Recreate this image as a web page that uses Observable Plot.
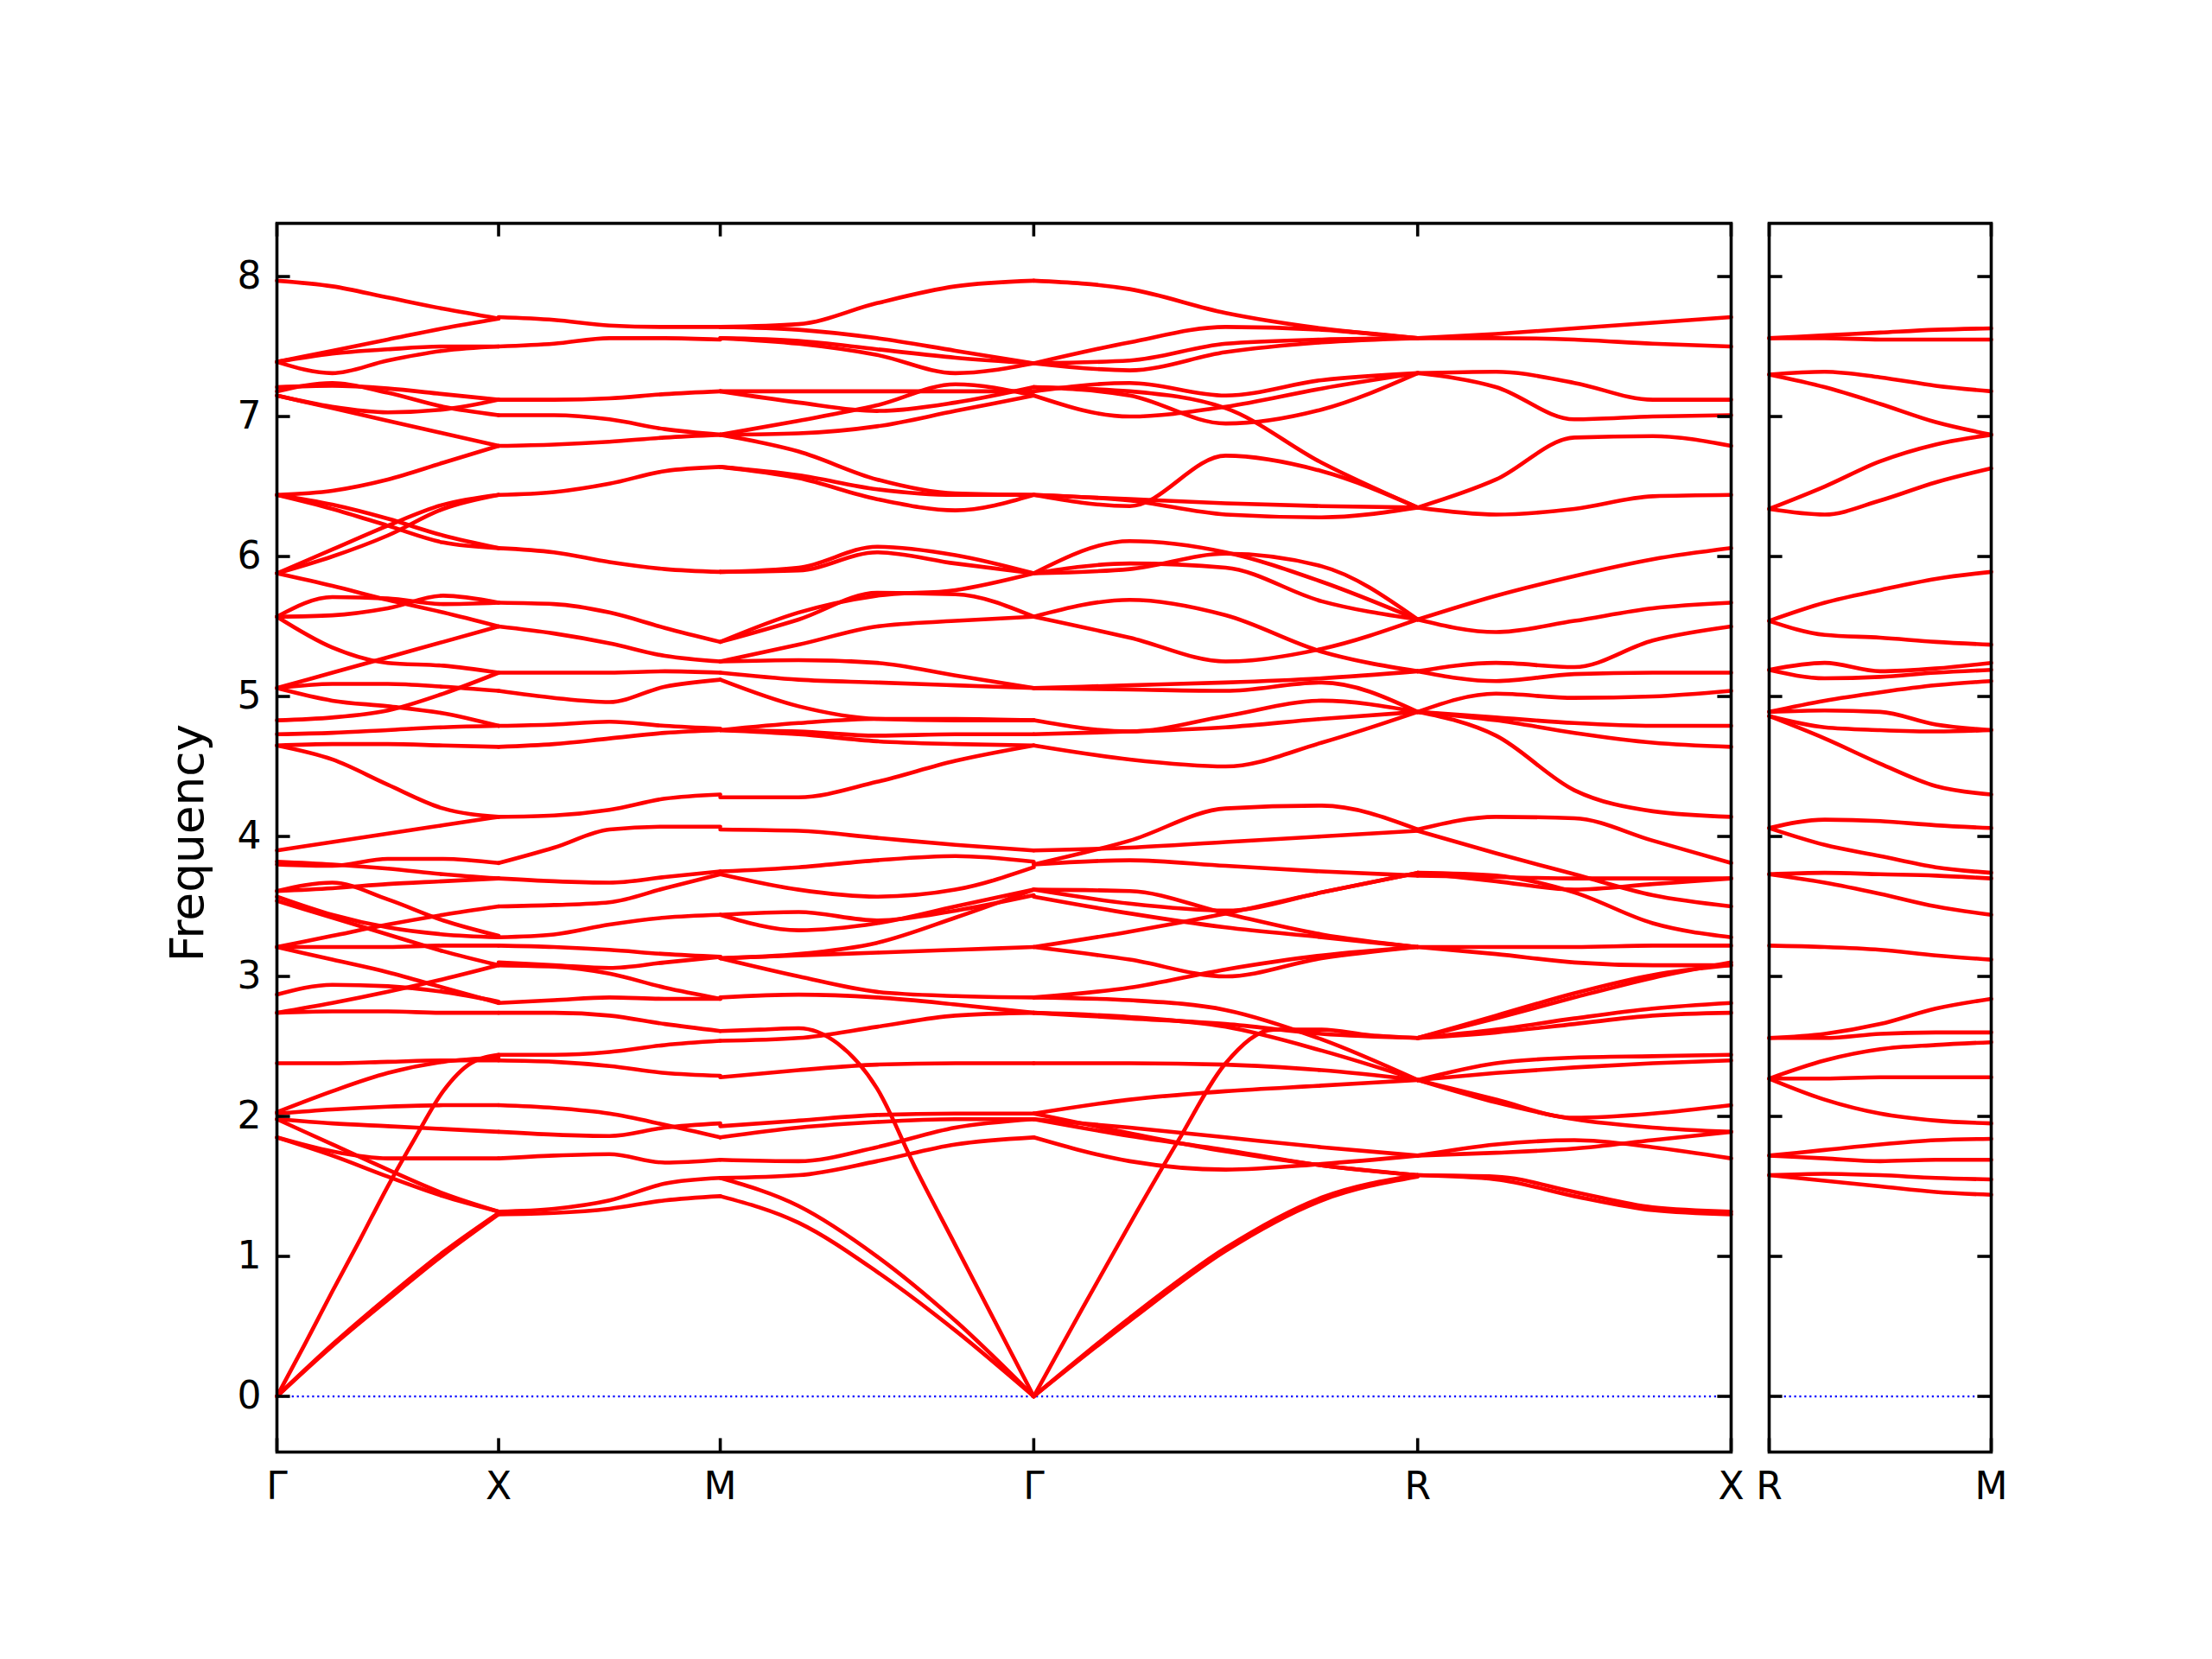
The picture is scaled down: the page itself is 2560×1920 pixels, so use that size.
<!DOCTYPE html>
<html><head><meta charset="utf-8">
<script src="https://cdn.jsdelivr.net/npm/d3@7"></script>
<script src="https://cdn.jsdelivr.net/npm/@observablehq/plot@0.6"></script>
<style>
html,body{margin:0;padding:0;background:#fff;}
#fig{position:relative;width:2560px;height:1920px;background:#fff;overflow:hidden;}
#fig > svg{position:absolute;top:0;}
</style></head><body><div id="fig"></div>
<script>
// high-symmetry points (path length) and labels
const symLeftX = [0, 0.5, 1.0, 1.7071, 2.5731, 3.2802];
const symLeftLabels = ["Γ","X","M","Γ","R","X"];
const symRightX = [0, 0.5];
const symRightLabels = ["R","M"];
const yTicks = [0,1,2,3,4,5,6,7,8];
const yDomain = [-0.398, 8.38];
const yLabel = "Frequency";

// band values read along each segment (evenly spaced samples)
const bandsGX = [
[7.97,7.93,7.85,7.77,7.70],[7.39,7.47,7.55,7.63,7.70],[7.39,7.45,7.48,7.50,7.50],[7.39,7.31,7.40,7.47,7.50],
[7.21,7.22,7.20,7.16,7.12],[7.18,7.24,7.17,7.07,7.01],[7.15,7.07,7.03,7.05,7.12],[7.15,7.06,6.97,6.88,6.79],
[6.44,6.47,6.55,6.67,6.79],[6.44,6.37,6.27,6.15,6.06],[6.44,6.34,6.22,6.10,6.06],[5.88,6.05,6.22,6.37,6.44],
[5.88,6.00,6.15,6.34,6.44],[5.88,5.79,5.69,5.60,5.50],[5.57,5.71,5.70,5.66,5.67],[5.57,5.58,5.63,5.72,5.67],
[5.57,5.35,5.24,5.22,5.17],[5.06,5.17,5.28,5.39,5.50],[5.06,5.09,5.09,5.07,5.04],[5.06,4.97,4.93,4.88,4.79],
[4.83,4.85,4.90,5.02,5.17],[4.73,4.74,4.76,4.78,4.79],[4.65,4.66,4.66,4.65,4.64],[4.65,4.55,4.37,4.20,4.14],
[3.90,3.96,4.02,4.08,4.14],[3.80,3.79,3.84,3.84,3.81],[3.82,3.80,3.77,3.73,3.70],[3.61,3.63,3.66,3.68,3.70],
[3.61,3.67,3.55,3.40,3.29],[3.57,3.44,3.35,3.30,3.28],[3.54,3.42,3.30,3.18,3.08],[3.21,3.29,3.37,3.44,3.50],
[3.21,3.21,3.21,3.22,3.22],[3.21,3.12,3.03,2.92,2.81],[2.74,2.81,2.89,2.98,3.08],[2.87,2.94,2.93,2.89,2.82],
[2.74,2.75,2.75,2.74,2.74],[2.38,2.38,2.39,2.40,2.40],[2.03,2.18,2.31,2.39,2.42],[2.02,2.05,2.07,2.08,2.08],
[1.98,1.95,1.93,1.91,1.89],[1.85,1.75,1.70,1.70,1.70],[1.85,1.72,1.57,1.43,1.32],[1.98,1.80,1.62,1.45,1.32],
[0,0.37,0.75,1.12,1.50,1.85,2.18,2.38,2.44],[0,0.37,0.71,1.03,1.31],[0,0.36,0.69,1.01,1.30]
];
const bandsXM = [
[7.71,7.69,7.65,7.64,7.64],[7.50,7.52,7.56,7.56,7.55],[7.12,7.12,7.13,7.16,7.18],[7.01,7.01,6.98,6.91,6.87],
[6.79,6.80,6.82,6.85,6.87],[6.44,6.46,6.52,6.61,6.64],[6.06,6.03,5.96,5.91,5.89],[5.67,5.66,5.60,5.49,5.39],
[5.50,5.45,5.38,5.29,5.25],[5.17,5.17,5.17,5.18,5.17],[5.04,4.99,4.96,5.07,5.12],[4.79,4.80,4.82,4.79,4.77],
[4.64,4.66,4.70,4.74,4.76],[4.14,4.15,4.19,4.27,4.30],[3.81,3.92,4.05,4.07,4.07],[3.70,3.68,3.67,3.71,3.75],
[3.50,3.51,3.53,3.63,3.73],[3.28,3.30,3.37,3.42,3.44],[3.22,3.21,3.19,3.16,3.14],[3.08,3.07,3.02,2.92,2.84],
[3.10,3.08,3.06,3.10,3.14],[2.81,2.83,2.85,2.84,2.84],[2.74,2.74,2.72,2.66,2.61],[2.44,2.44,2.46,2.51,2.54],
[2.40,2.39,2.36,2.31,2.29],[2.08,2.06,2.02,1.94,1.85],[1.89,1.87,1.86,1.92,1.95],[1.70,1.72,1.73,1.67,1.69],
[1.32,1.34,1.40,1.52,1.56],[1.30,1.31,1.34,1.40,1.43]
];
const bandsMG = [
[7.64,7.66,7.81,7.93,7.97],[7.64,7.62,7.56,7.47,7.38],[7.56,7.52,7.44,7.31,7.38],[7.56,7.54,7.48,7.42,7.38],
[7.18,7.18,7.18,7.18,7.18],[7.18,7.10,7.04,7.10,7.21],[6.87,6.97,7.08,7.23,7.15],[6.87,6.88,6.93,7.04,7.15],
[6.87,6.75,6.55,6.45,6.44],[6.64,6.56,6.41,6.33,6.44],[6.64,6.58,6.48,6.44,6.44],[5.89,5.92,6.07,6.01,5.88],
[5.89,5.90,6.03,5.95,5.88],[5.39,5.60,5.72,5.76,5.88],[5.39,5.55,5.74,5.73,5.57],[5.25,5.37,5.50,5.54,5.57],
[5.25,5.26,5.24,5.15,5.06],[5.17,5.12,5.10,5.08,5.06],[5.12,4.93,4.84,4.83,4.83],[4.76,4.81,4.84,4.84,4.83],
[4.76,4.75,4.72,4.73,4.73],[4.76,4.73,4.68,4.66,4.65],[4.28,4.28,4.39,4.54,4.65],[4.05,4.04,3.99,3.94,3.90],
[3.75,3.78,3.83,3.86,3.82],[3.73,3.62,3.57,3.62,3.78],[3.44,3.46,3.40,3.47,3.58],[3.44,3.33,3.38,3.50,3.62],
[3.13,3.16,3.24,3.42,3.62],[3.13,3.15,3.17,3.19,3.21],[3.13,3.00,2.89,2.86,2.85],[2.85,2.87,2.85,2.80,2.74],
[2.54,2.56,2.64,2.72,2.74],[2.28,2.33,2.37,2.38,2.38],[1.93,1.97,2.01,2.02,2.02],[1.85,1.92,1.96,1.98,1.98],
[1.69,1.68,1.78,1.92,1.98],[1.56,1.58,1.68,1.80,1.85],
[2.61,2.62,2.63,2.52,2.20,1.62,1.08,0.54,0],[1.56,1.36,1.00,0.54,0],[1.43,1.24,0.89,0.47,0]
];
const bandsGR = [
[7.97,7.91,7.74,7.63,7.56],[7.38,7.53,7.64,7.62,7.56],[7.38,7.40,7.52,7.55,7.56],[7.38,7.33,7.46,7.53,7.56],
[7.18,7.24,7.15,7.26,7.31],[7.15,7.00,7.07,7.20,7.31],[7.21,7.15,6.95,7.05,7.31],[7.21,7.18,7.06,6.67,6.35],
[6.44,6.36,6.72,6.61,6.35],[6.44,6.41,6.38,6.36,6.35],[6.44,6.40,6.30,6.28,6.35],[5.88,6.11,6.03,5.82,5.55],
[5.88,5.91,6.02,5.93,5.55],[5.88,5.95,5.92,5.68,5.55],[5.57,5.69,5.58,5.32,5.18],[5.57,5.42,5.25,5.34,5.55],
[5.06,5.08,5.10,5.13,5.18],[5.06,5.05,5.04,5.10,4.89],[4.83,4.75,4.86,4.97,4.89],[4.73,4.75,4.78,4.84,4.89],
[4.65,4.55,4.50,4.67,4.89],[3.80,3.97,4.20,4.22,4.05],[3.90,3.92,3.96,4.00,4.04],[3.80,3.83,3.79,3.75,3.72],
[3.62,3.52,3.47,3.60,3.74],[3.62,3.61,3.45,3.30,3.21],[3.57,3.45,3.35,3.28,3.21],[3.21,3.12,3.00,3.13,3.21],
[3.21,3.32,3.45,3.60,3.74],[2.85,2.92,3.05,3.15,3.21],[2.85,2.83,2.76,2.55,2.26],[2.74,2.71,2.64,2.47,2.26],
[2.74,2.70,2.66,2.59,2.56],[2.38,2.38,2.37,2.33,2.26],[2.02,2.12,2.18,2.22,2.26],[1.98,1.92,1.85,1.78,1.72],
[1.85,1.68,1.62,1.66,1.72],[2.02,1.88,1.75,1.65,1.58],[1.98,1.86,1.76,1.65,1.58],
[0,0.62,1.23,1.82,2.38,2.62,2.62,2.58,2.56],[0,0.56,1.06,1.42,1.58],[0,0.54,1.04,1.40,1.57]
];
const bandsRX = [
[7.56,7.59,7.63,7.67,7.71],[7.56,7.56,7.55,7.52,7.50],[7.31,7.32,7.24,7.12,7.12],[7.31,7.21,6.98,7.00,7.01],
[6.35,6.55,6.85,6.86,6.79],[6.35,6.30,6.34,6.43,6.44],[5.55,5.72,5.86,5.98,6.06],[5.55,5.46,5.54,5.63,5.67],
[5.18,5.24,5.21,5.40,5.50],[5.18,5.11,5.16,5.17,5.17],[4.89,5.02,4.99,5.00,5.04],[4.89,4.85,4.81,4.79,4.79],
[4.89,4.83,4.74,4.67,4.64],[4.89,4.72,4.33,4.18,4.14],[4.05,4.14,4.13,3.97,3.81],[4.04,3.88,3.73,3.58,3.50],
[3.74,3.72,3.60,3.38,3.28],[3.74,3.68,3.62,3.66,3.70],[3.72,3.71,3.70,3.70,3.70],[3.21,3.21,3.21,3.22,3.22],
[3.21,3.16,3.10,3.08,3.08],[2.56,2.72,2.88,3.01,3.08],[2.56,2.70,2.85,2.99,3.10],[2.56,2.60,2.66,2.72,2.74],
[2.56,2.62,2.70,2.77,2.81],[2.26,2.38,2.42,2.43,2.44],[2.26,2.31,2.35,2.38,2.40],[2.26,2.12,1.99,2.02,2.08],
[2.26,2.10,1.98,1.92,1.89],[1.72,1.80,1.83,1.78,1.70],[1.72,1.74,1.77,1.83,1.89],[1.58,1.57,1.46,1.35,1.32],
[1.58,1.55,1.43,1.33,1.30]
];
const bandsRM = [
[7.56,7.58,7.60,7.62,7.63],[7.56,7.56,7.55,7.55,7.55],[7.30,7.32,7.28,7.22,7.18],[7.30,7.21,7.09,6.96,6.87],
[6.34,6.50,6.68,6.80,6.87],[6.34,6.30,6.40,6.53,6.63],[5.54,5.67,5.76,5.84,5.89],[5.54,5.44,5.42,5.39,5.37],
[5.19,5.24,5.18,5.20,5.24],[5.19,5.13,5.14,5.17,5.19],[4.89,4.97,5.03,5.08,5.11],[4.89,4.90,4.89,4.80,4.76],
[4.86,4.78,4.76,4.75,4.76],[4.86,4.70,4.52,4.36,4.30],[4.06,4.12,4.11,4.08,4.06],[4.06,3.94,3.86,3.78,3.74],
[3.73,3.74,3.73,3.72,3.70],[3.73,3.67,3.59,3.50,3.44],[3.22,3.21,3.19,3.15,3.12],[2.56,2.59,2.66,2.77,2.84],
[2.56,2.56,2.59,2.60,2.60],[2.27,2.40,2.48,2.51,2.53],[2.27,2.27,2.28,2.28,2.28],[2.27,2.12,2.02,1.97,1.95],
[1.72,1.76,1.80,1.83,1.84],[1.72,1.70,1.68,1.69,1.69],[1.58,1.59,1.58,1.56,1.55],[1.58,1.54,1.50,1.46,1.44]
];

const leftSegments = [
  {from: 0, to: 1, bands: bandsGX},
  {from: 1, to: 2, bands: bandsXM},
  {from: 2, to: 3, bands: bandsMG},
  {from: 3, to: 4, bands: bandsGR},
  {from: 4, to: 5, bands: bandsRX}
];
const rightSegments = [{from: 0, to: 1, bands: bandsRM}];

function buildRows(segs, sym) {
  const rows = [];
  segs.forEach((s, si) => {
    const x0 = sym[s.from], x1 = sym[s.to];
    s.bands.forEach((vals, bi) => {
      const n = vals.length;
      vals.forEach((v, i) => rows.push({id: si + "-" + bi, x: x0 + (x1 - x0) * i / (n - 1), y: v}));
    });
  });
  return rows;
}

const FONT = "'DejaVu Sans', 'Liberation Sans', sans-serif";
const TICK = 15.6, SPINE = 3.6, LW = 4.6;
const TOP = 258, BOTTOM = 1680;
const FRAME_H = BOTTOM - TOP;
const style = {background: "transparent", fontFamily: FONT, fontSize: "44px", color: "black", overflow: "visible"};

function panel({sym, labels, segs, width, left, right, showY}) {
  const frameW = width - left - right;
  const rows = buildRows(segs, sym);
  const marks = [
    Plot.ruleY([0], {stroke: "blue", strokeWidth: 2.2, strokeDasharray: "2.2,3.7"}),
    Plot.line(rows, {x: "x", y: "y", z: "id", stroke: "red", strokeWidth: LW, curve: "monotone-x", strokeLinejoin: "round"}),
    Plot.ruleY(yTicks, {y: d => d, stroke: "black", strokeWidth: SPINE, insetRight: frameW - TICK}),
    Plot.ruleY(yTicks, {y: d => d, stroke: "black", strokeWidth: SPINE, insetLeft: frameW - TICK}),
    Plot.ruleX(sym, {x: d => d, stroke: "black", strokeWidth: SPINE, insetBottom: FRAME_H - TICK}),
    Plot.ruleX(sym, {x: d => d, stroke: "black", strokeWidth: SPINE, insetTop: FRAME_H - TICK}),
    Plot.frame({stroke: "black", strokeWidth: SPINE}),
    Plot.axisX({ticks: sym, tickSize: 0, tickPadding: 23, label: null, fontSize: 44, fontFamily: FONT,
      tickFormat: d => labels[sym.indexOf(d)]})
  ];
  if (showY) {
    marks.push(Plot.axisY({ticks: yTicks, tickSize: 0, tickPadding: 18, label: null, fontSize: 44, fontFamily: FONT}));
    marks.push(Plot.text([yLabel], {text: d => d, frameAnchor: "left", textAnchor: "middle", lineAnchor: "middle",
      dx: -103, dy: 6, rotate: -90, fontSize: 53.3, fontFamily: FONT, fill: "black"}));
  }
  return Plot.plot({
    width, height: 1920,
    marginLeft: left, marginRight: right, marginTop: TOP, marginBottom: 1920 - BOTTOM,
    style,
    x: {domain: [sym[0], sym[sym.length - 1]], axis: null},
    y: {domain: yDomain, axis: showY ? undefined : null},
    marks
  });
}

const fig = document.getElementById("fig");
const leftSvg = panel({sym: symLeftX, labels: symLeftLabels, segs: leftSegments, width: 2030, left: 320, right: 27, showY: true});
leftSvg.style.left = "0px";
fig.appendChild(leftSvg);
const rightSvg = panel({sym: symRightX, labels: symRightLabels, segs: rightSegments, width: 540, left: 27, right: 256, showY: false});
rightSvg.style.left = "2020px";
fig.appendChild(rightSvg);
</script></body></html>
